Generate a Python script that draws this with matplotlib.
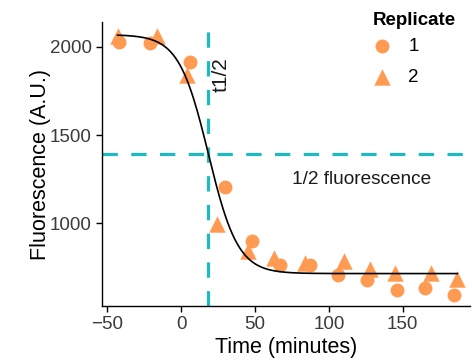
import numpy as np
import matplotlib
matplotlib.use('Agg')
import matplotlib.pyplot as plt

plt.rcParams['font.family'] = ['Liberation Sans', 'DejaVu Sans']

# replicate 1 (circles)
t1 = [-42, -21, 6, 30, 48, 67, 87, 106, 126, 146, 165, 185]
f1 = [2030, 2025, 1915, 1203, 900, 765, 760, 708, 680, 620, 632, 590]
# replicate 2 (triangles)
t2 = [-43, -16, 4, 24, 45, 63, 84, 110, 128, 145, 169, 187]
f2 = [2060, 2060, 1840, 995, 840, 805, 775, 785, 740, 718, 720, 685]

# fitted logistic decay
top, bottom = 2070, 714
t_half = 18.5
rate = 0.1
half_fluor = (top + bottom) / 2

orange = '#FF9A52'
cyan = '#1DBAC2'

fig = plt.figure(figsize=(4.72, 3.61), dpi=100)
ax = fig.add_axes([0.2155, 0.1524, 0.7803, 0.7853])

tt = np.linspace(min(t1 + t2), max(t1 + t2), 300)
fit = bottom + (top - bottom) / (1 + np.exp(rate * (tt - t_half)))

ax.axvline(t_half, color=cyan, lw=2.3, ls=(0, (4.8, 4.2)), zorder=1)
ax.axhline(half_fluor, color=cyan, lw=2.3, ls=(0, (4.8, 4.2)), zorder=1)
ax.scatter(t1, f1, marker='o', s=100, color=orange, lw=0, label='1', zorder=2)
ax.scatter(t2, f2, marker='^', s=140, color=orange, lw=0, label='2', zorder=2)
ax.plot(tt, fit, color='black', lw=1.2, zorder=3)

ax.text(27.4, 1845, 't1/2', rotation=90, ha='center', va='center', fontsize=15, color='#1a1a1a')
ax.text(122, 1246, '1/2 fluorescence', ha='center', va='center', fontsize=13.7, color='#1a1a1a')

ax.set_xlim(-53.7, 195.5)
ax.set_ylim(530, 2139)
ax.set_xticks([-50, 0, 50, 100, 150])
ax.set_yticks([1000, 1500, 2000])
ax.spines['top'].set_visible(False)
ax.spines['right'].set_visible(False)
ax.spines['left'].set_linewidth(1.0)
ax.spines['bottom'].set_linewidth(1.0)
ax.tick_params(length=4, width=1.0, labelsize=13.5, labelcolor='#3a3a3a', pad=3)
ax.set_xlabel('Time (minutes)', fontsize=15.5, labelpad=3)
ax.set_ylabel('Fluorescence (A.U.)', fontsize=15.5, labelpad=-1)

leg = ax.legend(title='Replicate', loc='upper left', bbox_to_anchor=(0.69, 1.095),
                frameon=False, fontsize=13.5, labelspacing=0.72, handlelength=1.0,
                handletextpad=0.9, title_fontproperties={'weight': 'bold', 'size': 13.5})
leg._legend_box.align = 'left'
leg._legend_box.sep = 6

fig.savefig('out.png', dpi=100)
